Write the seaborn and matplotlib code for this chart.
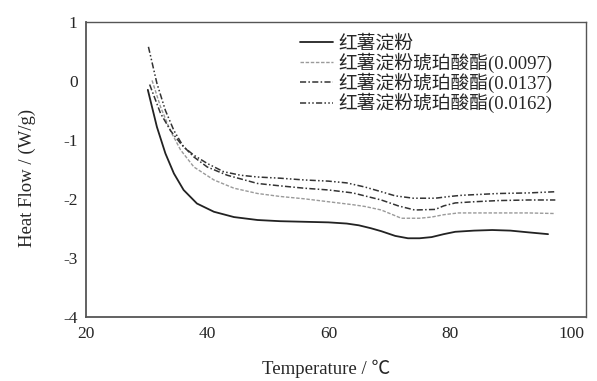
import numpy as np
import pandas as pd
import seaborn as sns
import matplotlib.pyplot as plt

# readings taken off the DSC curves
labels = ['红薯淀粉', '红薯淀粉琥珀酸酯(0.0097)', '红薯淀粉琥珀酸酯(0.0137)', '红薯淀粉琥珀酸酯(0.0162)']

t_native = [30.2, 31.7, 33.1, 34.5, 36.1, 38.3, 41.1, 44.4, 48.3, 52, 56, 60, 63, 65, 67, 68.7,
            71, 73.1, 75, 77, 79, 80.9, 84, 87, 90, 93, 96.2]
hf_native = [-0.15, -0.78, -1.23, -1.57, -1.85, -2.08, -2.22, -2.31, -2.36, -2.38, -2.39, -2.4,
             -2.42, -2.45, -2.5, -2.55, -2.63, -2.67, -2.67, -2.65, -2.6, -2.56, -2.54, -2.53,
             -2.54, -2.57, -2.6]

t_0097 = [30.9, 32.3, 33.9, 35.6, 37.8, 41.1, 44.4, 48.3, 52, 56, 60, 64, 66, 68.7, 72, 75, 77,
          79, 81.4, 88, 93, 97.4]
hf_0097 = [0.01, -0.44, -0.84, -1.17, -1.46, -1.68, -1.82, -1.91, -1.96, -2.0, -2.05, -2.1,
           -2.13, -2.19, -2.33, -2.33, -2.31, -2.27, -2.24, -2.24, -2.24, -2.25]

t_0137 = [30.5, 32.3, 34, 35.6, 37.8, 40, 43.3, 48.3, 52, 56, 60, 64, 68.7, 71.5, 74.2, 77.6,
          79, 80.9, 84, 88, 93, 97.4]
hf_0137 = [-0.06, -0.55, -0.85, -1.06, -1.29, -1.46, -1.6, -1.74, -1.78, -1.82, -1.85, -1.9,
           -2.02, -2.12, -2.19, -2.18, -2.12, -2.07, -2.05, -2.03, -2.02, -2.02]

t_0162 = [30.3, 31.7, 33.1, 34.5, 36.1, 37.8, 40, 42.7, 45.5, 48.3, 52, 56, 60, 63, 66, 68.7,
          71, 74, 77.6, 80, 82, 88, 93, 97.4]
hf_0162 = [0.58, -0.04, -0.5, -0.84, -1.12, -1.26, -1.4, -1.54, -1.6, -1.63, -1.65, -1.68,
           -1.7, -1.73, -1.8, -1.88, -1.95, -1.99, -1.99, -1.96, -1.94, -1.91, -1.9, -1.88]

sns.set_style('white')
plt.rcParams['font.family'] = ['Liberation Serif', 'Noto Sans CJK SC', 'DejaVu Sans']
plt.rcParams['axes.unicode_minus'] = False

fig = plt.figure(figsize=(5.97, 3.81), dpi=100)
ax = fig.add_axes([0.144, 0.169, 0.838, 0.773])

series = [(t_native, hf_native), (t_0097, hf_0097), (t_0137, hf_0137), (t_0162, hf_0162)]
styles = [
    dict(color='#222222', lw=1.3, ls='-'),
    dict(color='#9a9a9a', lw=1.0, ls=(0, (2.5, 1.2))),
    dict(color='#333333', lw=1.1, ls=(0, (4, 1.5, 1, 1.5))),
    dict(color='#333333', lw=1.1, ls=(0, (4, 1.5, 1, 1.5, 1, 1.5))),
]
for (t, hf), lab, st in zip(series, labels, styles):
    sns.lineplot(x=t, y=hf, ax=ax, label=lab, **st)

ax.set_xlim(20, 102.5)
ax.set_ylim(-4, 1)
ax.set_xticks([20, 40, 60, 80, 100])
ax.set_yticks([-4, -3, -2, -1, 0, 1])
ax.tick_params(direction='in', length=4, width=0.8, color='#444444', labelsize=12.5)
ax.tick_params(axis='x', pad=7)
ax.tick_params(axis='y', pad=6)
for s in ax.spines.values():
    s.set_color('#555555')
    s.set_linewidth(1.0)
ax.spines['left'].set_linewidth(1.3)
ax.spines['bottom'].set_linewidth(1.3)

ax.set_xlabel('Temperature / ℃', fontsize=13.5)
ax.set_ylabel('Heat Flow / (W/g)', fontsize=13.5)
ax.xaxis.set_label_coords(0.48, -0.145)
ax.yaxis.set_label_coords(-0.1, 0.47)

leg = ax.legend(loc='upper left', bbox_to_anchor=(0.428, 0.957), frameon=False,
                fontsize=13.5, handlelength=1.75, handletextpad=0.27, labelspacing=0,
                borderpad=0, borderaxespad=0)

fig.savefig('out.png', dpi=100)
